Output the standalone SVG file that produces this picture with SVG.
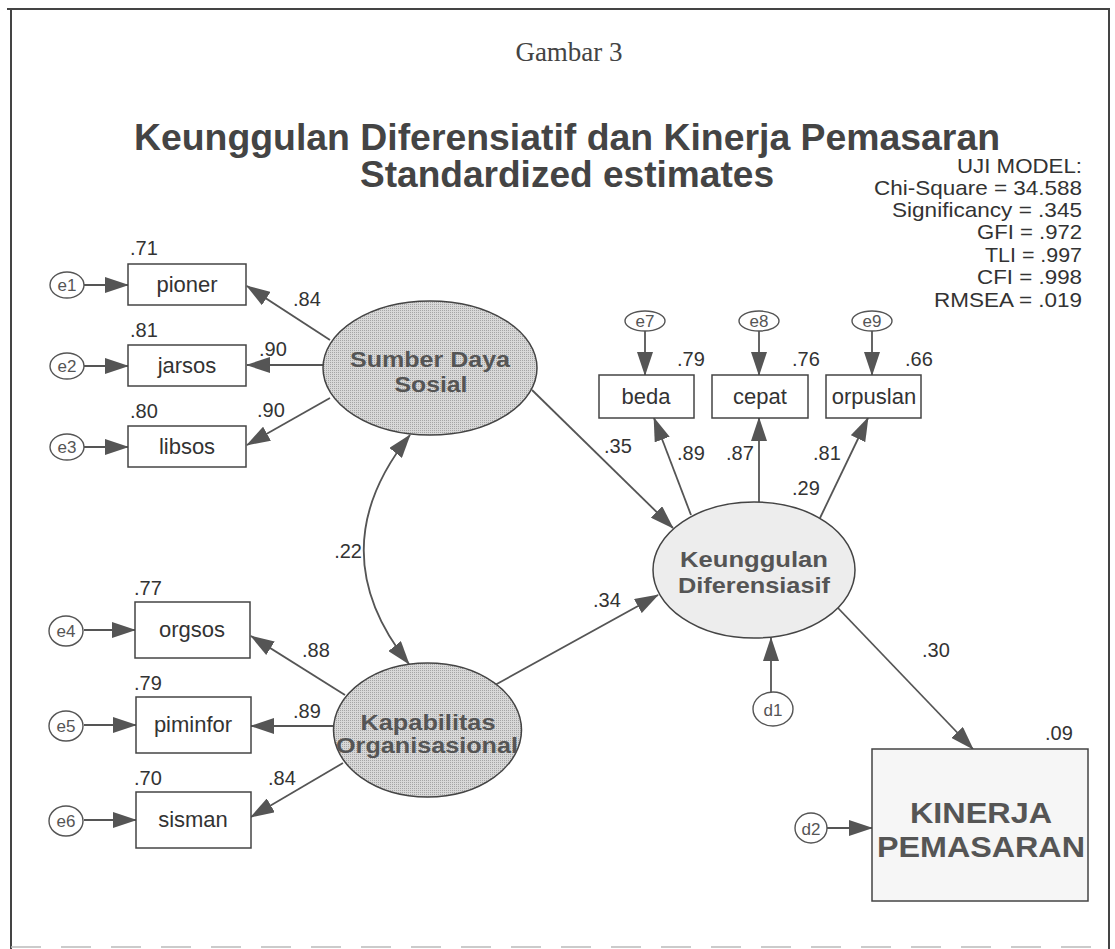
<svg xmlns="http://www.w3.org/2000/svg" width="1115" height="949" viewBox="0 0 1115 949">
<style>
.frame{stroke:#444;stroke-width:2;fill:none}
.box{fill:#fff;stroke:#444;stroke-width:1.5}
.err{fill:#fff;stroke:#555;stroke-width:1.4}
.lat{fill:url(#stip);stroke:#444;stroke-width:1.5}
.lat2{fill:#ededed;stroke:#444;stroke-width:1.5}
.t{font-family:"Liberation Sans",Arial,sans-serif;fill:#333}
.num{font-family:"Liberation Sans",Arial,sans-serif;font-size:20px;fill:#333}
.lbl{font-family:"Liberation Sans",Arial,sans-serif;font-size:22px;fill:#333;text-anchor:middle}
.elbl{font-family:"Liberation Sans",Arial,sans-serif;font-size:17px;fill:#555;text-anchor:middle}
.latt{font-family:"Liberation Sans",Arial,sans-serif;font-size:22px;font-weight:bold;fill:#555;text-anchor:middle}
.edge{stroke:#555;stroke-width:1.8;fill:none;marker-end:url(#ah)}
</style>
<defs>
<pattern id="stip" width="2" height="2" patternUnits="userSpaceOnUse">
<rect width="2" height="2" fill="#d8d8d8"/>
<rect width="1" height="1" fill="#a5a5a5"/>
</pattern>
<marker id="ah" markerUnits="userSpaceOnUse" markerWidth="24" markerHeight="16" refX="23" refY="8" orient="auto">
<path d="M0,0 L24,8 L0,16 Z" fill="#555"/>
</marker>
<marker id="ahs" markerUnits="userSpaceOnUse" markerWidth="24" markerHeight="16" refX="23" refY="8" orient="auto-start-reverse">
<path d="M0,0 L24,8 L0,16 Z" fill="#555"/>
</marker>
</defs>
<g id="frame">
<line class="frame" x1="7" y1="9" x2="1110" y2="9"/>
<line class="frame" x1="11" y1="9" x2="11" y2="949"/>
<line class="frame" x1="1109" y1="9" x2="1109" y2="949"/>
<line x1="11" y1="947" x2="1109" y2="947" stroke="#bbb" stroke-width="1.5" stroke-dasharray="30 20"/>
</g>
<g id="titles">
<text x="569" y="61" font-family="Liberation Serif,Times New Roman,serif" font-size="27" fill="#444" text-anchor="middle">Gambar 3</text>
<text class="t" x="567" y="150" font-size="36" font-weight="bold" text-anchor="middle" textLength="866" lengthAdjust="spacingAndGlyphs" style="fill:#444">Keunggulan Diferensiatif dan Kinerja Pemasaran</text>
<text class="t" x="567" y="187" font-size="36" font-weight="bold" text-anchor="middle" textLength="414" lengthAdjust="spacingAndGlyphs" style="fill:#444">Standardized estimates</text>
</g>
<g id="fit" class="t" font-size="21" text-anchor="end">
<text x="1082" y="173" textLength="125" lengthAdjust="spacingAndGlyphs">UJI MODEL:</text>
<text x="1082" y="195" textLength="208" lengthAdjust="spacingAndGlyphs">Chi-Square = 34.588</text>
<text x="1082" y="217" textLength="190" lengthAdjust="spacingAndGlyphs">Significancy = .345</text>
<text x="1082" y="239" textLength="105" lengthAdjust="spacingAndGlyphs">GFI = .972</text>
<text x="1082" y="262" textLength="97" lengthAdjust="spacingAndGlyphs">TLI = .997</text>
<text x="1082" y="284" textLength="105" lengthAdjust="spacingAndGlyphs">CFI = .998</text>
<text x="1082" y="307" textLength="148" lengthAdjust="spacingAndGlyphs">RMSEA = .019</text>
</g>
<g id="connectors">
<line class="edge" x1="84" y1="285" x2="128" y2="285"/>
<line class="edge" x1="84" y1="366" x2="128" y2="366"/>
<line class="edge" x1="84" y1="447" x2="128" y2="447"/>
<line class="edge" x1="84" y1="630" x2="135" y2="630"/>
<line class="edge" x1="84" y1="725" x2="136" y2="725"/>
<line class="edge" x1="84" y1="820" x2="136" y2="820"/>
<line class="edge" x1="330" y1="340" x2="247" y2="286"/>
<line class="edge" x1="323" y1="365" x2="247" y2="365"/>
<line class="edge" x1="330" y1="398" x2="247" y2="445"/>
<line class="edge" x1="345" y1="695" x2="251" y2="636"/>
<line class="edge" x1="334" y1="726" x2="251" y2="726"/>
<line class="edge" x1="343" y1="763" x2="251" y2="817"/>
<path d="M410,435 Q318,550 409,664" stroke="#555" stroke-width="1.8" fill="none" marker-start="url(#ahs)" marker-end="url(#ah)"/>
<line class="edge" x1="532" y1="390" x2="673" y2="528"/>
<line class="edge" x1="495" y1="685" x2="658" y2="595"/>
<line class="edge" x1="645" y1="331" x2="645" y2="375"/>
<line class="edge" x1="759" y1="331" x2="759" y2="375"/>
<line class="edge" x1="872" y1="331" x2="872" y2="375"/>
<line class="edge" x1="691" y1="515" x2="654" y2="418"/>
<line class="edge" x1="759" y1="502" x2="759" y2="418"/>
<line class="edge" x1="820" y1="518" x2="868" y2="418"/>
<line class="edge" x1="838" y1="608" x2="973" y2="749"/>
<line class="edge" x1="771" y1="692" x2="771" y2="638"/>
<line class="edge" x1="827" y1="828" x2="872" y2="828"/>
</g>
<g id="e1"><ellipse class="err" cx="67" cy="285" rx="17" ry="13"/><text class="elbl" x="67" y="291">e1</text></g>
<g id="e2"><ellipse class="err" cx="67" cy="366" rx="17" ry="13"/><text class="elbl" x="67" y="372">e2</text></g>
<g id="e3"><ellipse class="err" cx="67" cy="447" rx="17" ry="13"/><text class="elbl" x="67" y="453">e3</text></g>
<g id="e4"><ellipse class="err" cx="66" cy="631" rx="17" ry="15"/><text class="elbl" x="66" y="637">e4</text></g>
<g id="e5"><ellipse class="err" cx="66" cy="726" rx="17" ry="15"/><text class="elbl" x="66" y="732">e5</text></g>
<g id="e6"><ellipse class="err" cx="66" cy="821" rx="17" ry="15"/><text class="elbl" x="66" y="827">e6</text></g>
<g id="e7"><ellipse class="err" cx="645" cy="321" rx="20" ry="10"/><text class="elbl" x="645" y="327">e7</text></g>
<g id="e8"><ellipse class="err" cx="759" cy="321" rx="20" ry="10"/><text class="elbl" x="759" y="327">e8</text></g>
<g id="e9"><ellipse class="err" cx="872" cy="321" rx="20" ry="10"/><text class="elbl" x="872" y="327">e9</text></g>
<g id="d1"><ellipse class="err" cx="773" cy="709" rx="20" ry="17"/><text class="elbl" x="773" y="716" font-size="19">d1</text></g>
<g id="d2"><ellipse class="err" cx="811" cy="828" rx="16" ry="15"/><text class="elbl" x="811" y="835" font-size="19">d2</text></g>
<g id="pioner"><rect class="box" x="128" y="264" width="118" height="41"/><text class="lbl" x="187" y="292">pioner</text><text class="num" x="130" y="255">.71</text></g>
<g id="jarsos"><rect class="box" x="128" y="345" width="118" height="41"/><text class="lbl" x="187" y="373">jarsos</text><text class="num" x="130" y="337">.81</text></g>
<g id="libsos"><rect class="box" x="128" y="426" width="118" height="41"/><text class="lbl" x="187" y="454">libsos</text><text class="num" x="130" y="418">.80</text></g>
<g id="orgsos"><rect class="box" x="135" y="602" width="115" height="56"/><text class="lbl" x="192" y="637">orgsos</text><text class="num" x="134" y="595">.77</text></g>
<g id="piminfor"><rect class="box" x="136" y="697" width="115" height="56"/><text class="lbl" x="193" y="732">piminfor</text><text class="num" x="134" y="690">.79</text></g>
<g id="sisman"><rect class="box" x="136" y="792" width="115" height="56"/><text class="lbl" x="193" y="827">sisman</text><text class="num" x="134" y="785">.70</text></g>
<g id="beda"><rect class="box" x="599" y="375" width="95" height="43"/><text class="lbl" x="646" y="404">beda</text><text class="num" x="677" y="366">.79</text></g>
<g id="cepat"><rect class="box" x="712" y="375" width="96" height="43"/><text class="lbl" x="760" y="404">cepat</text><text class="num" x="792" y="366">.76</text></g>
<g id="orpuslan"><rect class="box" x="826" y="375" width="95" height="43"/><text class="lbl" x="874" y="404">orpuslan</text><text class="num" x="905" y="366">.66</text></g>
<g id="sds"><ellipse class="lat" cx="430" cy="368" rx="107" ry="67"/>
<text class="latt" x="430" y="367" textLength="160" lengthAdjust="spacingAndGlyphs">Sumber Daya</text>
<text class="latt" x="431" y="392" textLength="73" lengthAdjust="spacingAndGlyphs">Sosial</text></g>
<g id="kap"><ellipse class="lat" cx="427.5" cy="730" rx="94" ry="67"/>
<text class="latt" x="428" y="730" textLength="135" lengthAdjust="spacingAndGlyphs">Kapabilitas</text>
<text class="latt" x="427" y="753" textLength="182" lengthAdjust="spacingAndGlyphs">Organisasional</text></g>
<g id="kd"><ellipse class="lat2" cx="754" cy="570" rx="101" ry="68"/>
<text class="latt" x="754" y="567" textLength="148" lengthAdjust="spacingAndGlyphs">Keunggulan</text>
<text class="latt" x="754" y="593" textLength="152" lengthAdjust="spacingAndGlyphs">Diferensiasif</text></g>
<g id="kinerja"><rect x="872" y="749" width="216" height="152" fill="#f6f6f6" stroke="#444" stroke-width="1.5"/>
<text class="latt" x="981" y="823" textLength="142" lengthAdjust="spacingAndGlyphs" style="font-size:30px">KINERJA</text>
<text class="latt" x="981" y="857" textLength="208" lengthAdjust="spacingAndGlyphs" style="font-size:30px">PEMASARAN</text>
<text class="num" x="1045" y="740">.09</text></g>
<g id="path-labels">
<text class="num" x="293" y="306">.84</text>
<text class="num" x="259" y="356">.90</text>
<text class="num" x="257" y="417">.90</text>
<text class="num" x="302" y="657">.88</text>
<text class="num" x="293" y="718">.89</text>
<text class="num" x="268" y="785">.84</text>
<text class="num" x="362" y="558" text-anchor="end">.22</text>
<text class="num" x="604" y="453">.35</text>
<text class="num" x="677" y="460">.89</text>
<text class="num" x="726" y="460">.87</text>
<text class="num" x="813" y="460">.81</text>
<text class="num" x="792" y="495">.29</text>
<text class="num" x="593" y="607">.34</text>
<text class="num" x="922" y="657">.30</text>
</g>
</svg>
